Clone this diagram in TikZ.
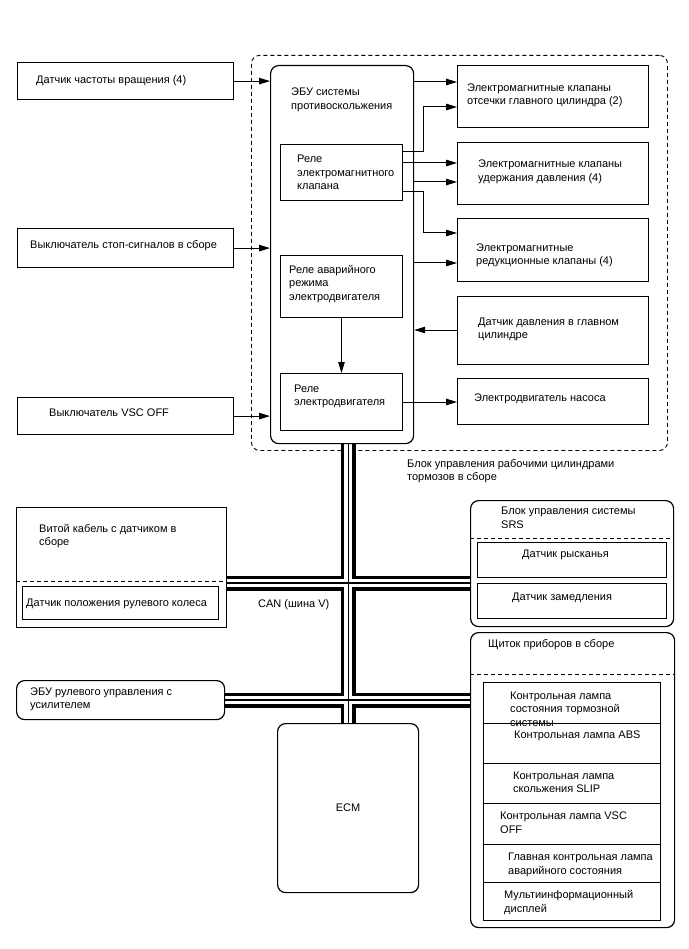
\documentclass[tikz,border=0pt]{standalone}
\usepackage{fontspec}
\setmainfont{Liberation Sans}
\usetikzlibrary{arrows.meta, backgrounds}

\tikzset{
  blk/.style={draw, line width=1.2pt, anchor=north west, inner sep=0pt},
  rblk/.style={blk, rounded corners=8pt},
  inblk/.style={draw, line width=0.9pt, anchor=north west, inner sep=0pt},
  txt/.style={anchor=base west, align=left, inner sep=0pt},
  arr/.style={-{Triangle[length=11pt, width=6.5pt]}, line width=1pt},
  dsh/.style={line width=0.9pt, dash pattern=on 4pt off 3pt},
}

\begin{document}
\begin{tikzpicture}[x=1pt, y=-1pt, font=\fontsize{11}{13.5}\selectfont]
  \useasboundingbox (0,0) rectangle (688,949);

  % inputs on the left
  \node[blk, minimum width=216pt, minimum height=37pt] (spd) at (17,62) {};
  \node[txt] (spdt) at (36,84) {Датчик частоты вращения (4)};
  \node[blk, minimum width=216pt, minimum height=39pt] (stp) at (17,228) {};
  \node[txt] (stpt) at (30,249) {Выключатель стоп-сигналов в сборе};
  \node[blk, minimum width=216pt, minimum height=37pt] (vsw) at (17,397) {};
  \node[txt] (vswt) at (49,416) {Выключатель VSC OFF};

  % skid control ECU with its relays (text nodes sit on their last line)
  \node[rblk, minimum width=143pt, minimum height=378pt] (ecu) at (270,65) {};
  \node[txt] (ecut) at (291,109.5) {ЭБУ системы\\противоскольжения};
  \node[inblk, minimum width=122pt, minimum height=56pt] (rel1) at (280,144) {};
  \node[txt] (rel1t) at (297,190) {Реле\\электромагнитного\\клапана};
  \node[inblk, minimum width=122pt, minimum height=62pt] (rel2) at (280,255) {};
  \node[txt] (rel2t) at (289,300) {Реле аварийного\\режима\\электродвигателя};
  \node[inblk, minimum width=122pt, minimum height=57pt] (rel3) at (280,373) {};
  \node[txt] (rel3t) at (294,405.5) {Реле\\электродвигателя};

  % actuator side
  \node[blk, minimum width=191pt, minimum height=62pt] (sol1) at (457,65) {};
  \node[txt] (sol1t) at (467,105) {Электромагнитные клапаны\\отсечки главного цилиндра (2)};
  \node[blk, minimum width=191pt, minimum height=62pt] (sol2) at (457,142) {};
  \node[txt] (sol2t) at (478,181.5) {Электромагнитные клапаны\\удержания давления (4)};
  \node[blk, minimum width=191pt, minimum height=63pt] (sol3) at (457,218) {};
  \node[txt] (sol3t) at (476,265) {Электромагнитные\\редукционные клапаны (4)};
  \node[blk, minimum width=191pt, minimum height=68pt] (mcs) at (457,296) {};
  \node[txt] (mcst) at (478,338.5) {Датчик давления в главном\\цилиндре};
  \node[blk, minimum width=191pt, minimum height=46pt] (pmp) at (457,378) {};
  \node[txt] (pmpt) at (474,401) {Электродвигатель насоса};
  \node[txt] (actt) at (407,480.5) {Блок управления рабочими цилиндрами\\тормозов в сборе};

  \draw[arr] (spd) -- (spd -| ecu.west);
  \draw[arr] (stp) -- (stp -| ecu.west);
  \draw[arr] (vsw) -- (vsw -| ecu.west);
  \draw[arr] (ecu.east |- 0,82) -- (sol1.west |- 0,82);
  \draw[arr] (rel1.east |- 0,152) -- (423,152) |- (sol1.west |- 0,107);
  \draw[arr] (rel1.east |- 0,163) -- (sol2.west |- 0,163);
  \draw[arr] (ecu.east |- 0,182) -- (sol2.west |- 0,182);
  \draw[arr] (rel1.east |- 0,192) -- (423,192) |- (sol3.west |- 0,233);
  \draw[arr] (ecu.east |- 0,263) -- (sol3.west |- 0,263);
  \draw[arr] (mcs.west |- 0,330) -- (ecu.east |- 0,330);
  \draw[arr] (rel3.east |- 0,402) -- (pmp.west |- 0,402);
  \draw[arr] (rel2.south) -- (rel3.north);

  % spiral cable and steering sensor
  \node[blk, minimum width=210pt, minimum height=120pt] (whl) at (16,507) {};
  \draw[dsh] (whl.west |- 0,581) -- (whl.east |- 0,581);
  \node[txt] (whlt) at (39,545.5) {Витой кабель с датчиком в\\сборе};
  \node[inblk, minimum width=196pt, minimum height=33pt] (swa) at (22,586) {};
  \node[txt] (swat) at (26,606) {Датчик положения рулевого колеса};
  \node[txt] (cant) at (258,607) {CAN (шина V)};

  \node[rblk, minimum width=208pt, minimum height=39pt] (eps) at (16,680) {};
  \node[txt] (epst) at (30,708.5) {ЭБУ рулевого управления с\\усилителем};
  \node[rblk, minimum width=141pt, minimum height=169pt] (ecm) at (277,723) {};
  \node (ecmt) at (ecm.center) {ECM};

  % airbag sensor assembly
  \node[rblk, minimum width=203pt, minimum height=126pt] (srs) at (470,500) {};
  \draw[dsh] (srs.west |- 0,538) -- (srs.east |- 0,538);
  \node[txt] (srst) at (501,528) {Блок управления системы\\SRS};
  \node[inblk, minimum width=189pt, minimum height=35pt] (yaw) at (477,542) {};
  \node[txt] (yawt) at (522,557) {Датчик рысканья};
  \node[inblk, minimum width=189pt, minimum height=35pt] (dec) at (477,583) {};
  \node[txt] (dect) at (512,600) {Датчик замедления};

  % combination meter
  \node[rblk, minimum width=204pt, minimum height=295pt] (ipc) at (470,632) {};
  \draw[dsh] (ipc.west |- 0,674) -- (ipc.east |- 0,674);
  \node[txt] (ipct) at (488,647) {Щиток приборов в сборе};
  \node[inblk, minimum width=177pt, minimum height=41pt] (lmp1) at (483,682) {};
  \node[inblk, minimum width=177pt, minimum height=40pt] (lmp2) at (483,723) {};
  \node[inblk, minimum width=177pt, minimum height=40pt] (lmp3) at (483,763) {};
  \node[inblk, minimum width=177pt, minimum height=41pt] (lmp4) at (483,803) {};
  \node[inblk, minimum width=177pt, minimum height=38pt] (lmp5) at (483,844) {};
  \node[inblk, minimum width=177pt, minimum height=38pt] (lmp6) at (483,882) {};
  \node[txt] (lmp1t) at (510,726) {Контрольная лампа\\состояния тормозной\\системы};
  \node[txt] (lmp2t) at (514,738) {Контрольная лампа ABS};
  \node[txt] (lmp3t) at (513,792.5) {Контрольная лампа\\скольжения SLIP};
  \node[txt] (lmp4t) at (500,833) {Контрольная лампа VSC\\OFF};
  \node[txt] (lmp5t) at (508,874) {Главная контрольная лампа\\аварийного состояния};
  \node[txt] (lmp6t) at (504,912) {Мультиинформационный\\дисплей};

  % dashed frame and CAN bus go underneath
  \begin{scope}[on background layer]
    \node[rblk, dsh, minimum width=416pt, minimum height=395pt] (act) at (251,55) {};
    \coordinate (can1) at (347,583);
    \coordinate (can2) at (347,700);
    \foreach \w/\c in {15pt/black, 7.5pt/white, 1.2pt/black}
      \draw[line width=\w, \c] (ecm.north) -- (ecm.north |- ecu.south)
        (whl.east |- can1) -- (srs.west |- can1)
        (eps.east |- can2) -- (ipc.west |- can2);
  \end{scope}
\end{tikzpicture}
\end{document}
